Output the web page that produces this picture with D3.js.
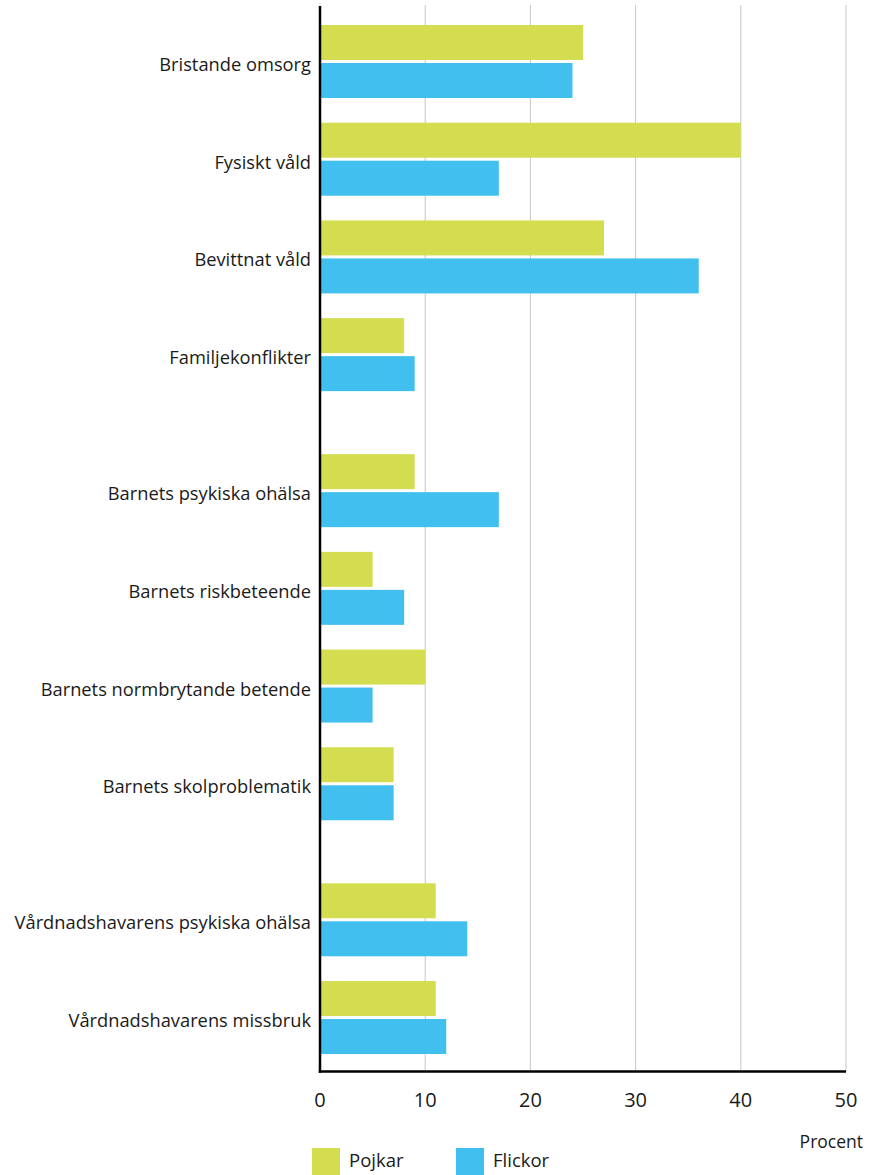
<!DOCTYPE html>
<html>
<head>
<meta charset="utf-8">
<script src="https://cdn.jsdelivr.net/npm/d3@7"></script>
<style>
  html, body { margin: 0; padding: 0; background: #fff; }
  svg { display: block; font-family: "Open Sans", "Noto Sans", sans-serif; }
</style>
</head>
<body>
<svg id="chart" width="872" height="1175"></svg>
<script>
// Reasons for the intervention, share of boys and girls (percent)
const categories = [
  "Bristande omsorg",
  "Fysiskt våld",
  "Bevittnat våld",
  "Familjekonflikter",
  "Barnets psykiska ohälsa",
  "Barnets riskbeteende",
  "Barnets normbrytande betende",
  "Barnets skolproblematik",
  "Vårdnadshavarens psykiska ohälsa",
  "Vårdnadshavarens missbruk"
];
// Which block each category belongs to (blocks are separated by extra space)
const groups = [0, 0, 0, 0, 1, 1, 1, 1, 2, 2];
const pojkar = [25, 40, 27, 8, 9, 5, 10, 7, 11, 11];
const flickor = [24, 17, 36, 9, 17, 8, 5, 7, 14, 12];
const seriesNames = ["Pojkar", "Flickor"];
const xTicks = [0, 10, 20, 30, 40, 50];
const axisTitle = "Procent";

const colors = { Pojkar: "#d4dc4f", Flickor: "#41bfee" };

const svg = d3.select("#chart");

const plotLeft = 320, plotRight = 846, plotTop = 5, plotBottom = 1071.5;
const barH = 35, barGap = 3, blockGap = 0.392;

const x = d3.scaleLinear().domain([0, 50]).range([plotLeft, plotRight]);

// slot index per category, with extra room between blocks
const slots = categories.map((c, i) => i + groups[i] * blockGap);
const y = d3.scaleLinear()
  .domain([0, d3.max(slots)])
  .range([25, 981]);

// vertical gridlines
svg.append("g")
  .selectAll("line")
  .data(xTicks.filter(t => t > 0))
  .join("line")
  .attr("x1", d => x(d)).attr("x2", d => x(d))
  .attr("y1", plotTop).attr("y2", plotBottom)
  .attr("stroke", "#c6c6c6")
  .attr("stroke-width", 1);

const rows = categories.map((c, i) => ({
  cat: c, slot: slots[i], Pojkar: pojkar[i], Flickor: flickor[i]
}));

// bars
const barG = svg.append("g");
seriesNames.forEach((s, si) => {
  barG.selectAll("rect." + s)
    .data(rows)
    .join("rect")
    .attr("class", s)
    .attr("x", x(0))
    .attr("y", d => y(d.slot) + si * (barH + barGap))
    .attr("width", d => x(d[s]) - x(0))
    .attr("height", barH)
    .attr("fill", colors[s]);
});

// category labels
svg.append("g")
  .selectAll("text")
  .data(rows)
  .join("text")
  .attr("x", plotLeft - 9)
  .attr("y", d => y(d.slot) + 46)
  .attr("text-anchor", "end")
  .attr("font-size", 18.3)
  .attr("fill", "#1a1a1a")
  .text(d => d.cat);

// axes lines
svg.append("line")
  .attr("x1", plotLeft).attr("x2", plotLeft)
  .attr("y1", 6).attr("y2", plotBottom + 1.2)
  .attr("stroke", "#000").attr("stroke-width", 2.5);
svg.append("line")
  .attr("x1", plotLeft - 1.2).attr("x2", plotRight)
  .attr("y1", plotBottom).attr("y2", plotBottom)
  .attr("stroke", "#000").attr("stroke-width", 2.5);

// x tick labels
svg.append("g")
  .selectAll("text")
  .data(xTicks)
  .join("text")
  .attr("x", d => x(d))
  .attr("y", 1107)
  .attr("text-anchor", "middle")
  .attr("font-size", 20)
  .attr("fill", "#1a1a1a")
  .text(d => d);

svg.append("text")
  .attr("x", 863)
  .attr("y", 1148)
  .attr("text-anchor", "end")
  .attr("font-size", 17.5)
  .attr("fill", "#1a1a1a")
  .text(axisTitle);

// legend
const legendX = [312, 456];
const lg = svg.append("g")
  .selectAll("g")
  .data(seriesNames)
  .join("g")
  .attr("transform", (d, i) => `translate(${legendX[i]},1148)`);
lg.append("rect")
  .attr("width", 28).attr("height", 28)
  .attr("fill", d => colors[d]);
lg.append("text")
  .attr("x", 37)
  .attr("y", 19)
  .attr("font-size", 18.5)
  .attr("fill", "#1a1a1a")
  .text(d => d);
</script>
</body>
</html>
